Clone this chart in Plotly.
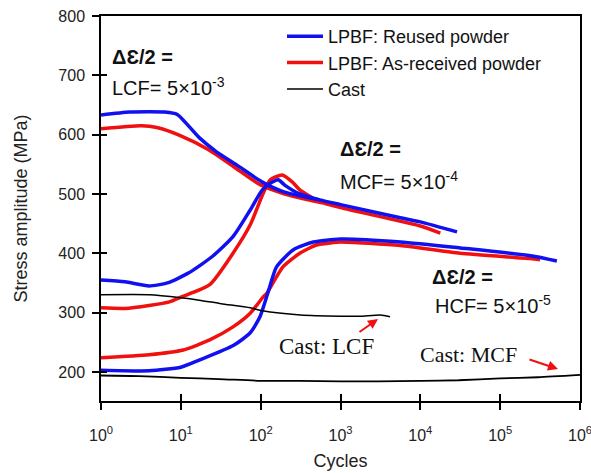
import plotly.graph_objects as go

# ---------------- data ----------------
# LPBF reused powder (blue)
reused_lcf_cycles = [1, 2.3, 6.3, 9, 17, 28, 50, 105, 200, 550]
reused_lcf_stress = [633, 638, 638, 634, 595, 571, 549, 520, 503, 490]
reused_mcf_cycles = [1, 2, 4, 6.8, 12.6, 25, 45, 74, 105, 140, 166, 200, 309, 550, 1000, 5620, 10000, 28800]
reused_mcf_stress = [355, 352, 345, 350, 367, 395, 428, 473, 507, 520, 524, 515, 500, 490, 482, 460, 453, 436]
reused_hcf_cycles = [1, 4, 10, 17, 46, 74, 98, 123, 158, 257, 457, 1000, 5620, 31600, 240000, 513000]
reused_hcf_stress = [203, 202, 208, 220, 245, 266, 293, 333, 377, 406, 419, 424, 419, 409, 396, 387]

# LPBF as-received powder (red)
asrec_lcf_cycles = [1, 3.2, 5, 10, 22, 46, 100, 200, 589]
asrec_lcf_stress = [610, 615, 612, 598, 575, 546, 515, 500, 485]
asrec_mcf_cycles = [1, 2, 4, 7.2, 10, 23, 45, 74, 105, 132, 186, 250, 309, 550, 1000, 10000, 17800]
asrec_mcf_stress = [308, 307, 312, 318, 326, 347, 400, 448, 498, 524, 532, 520, 507, 487, 477, 446, 434]
asrec_hcf_cycles = [1, 4, 10.7, 23, 45, 74, 107, 120, 190, 309, 500, 800, 1000, 5620, 31600, 240000, 316000]
asrec_hcf_stress = [224, 229, 237, 254, 276, 299, 326, 333, 377, 400, 414, 418, 419, 413, 400, 391, 389]

# Cast (black)
cast_lcf_cycles = [1, 4, 10, 17, 32, 74, 105, 316, 1000, 1778, 3162, 4170]
cast_lcf_stress = [330, 330, 325, 321, 315, 308, 303, 296, 294, 294, 296, 293]
cast_mcf_cycles = [1, 3, 10, 30, 100, 300, 1000, 3000, 10000, 30000, 100000, 300000, 1000000]
cast_mcf_stress = [194, 193, 190, 188, 185, 185, 184, 184, 185, 186, 189, 191, 195]

x_tickvals = [1, 10, 100, 1000, 10000, 100000, 1000000]
x_ticktext = ["10<sup>0</sup>", "10<sup>1</sup>", "10<sup>2</sup>", "10<sup>3</sup>",
              "10<sup>4</sup>", "10<sup>5</sup>", "10<sup>6</sup>"]
y_tickvals = [200, 300, 400, 500, 600, 700, 800]

series_names = ["LPBF: Reused powder", "LPBF: As-received powder", "Cast"]

# ---------------- figure ----------------
SANS = "Liberation Sans, Arial, sans-serif"
SERIF = "Liberation Serif, Times New Roman, serif"
BLUE = "#1010f0"
RED = "#f01010"

fig = go.Figure()

def add(xs, ys, name, color, width, show):
    fig.add_trace(go.Scatter(x=xs, y=ys, mode="lines", name=name, legendgroup=name,
                             showlegend=show, line=dict(color=color, width=width, shape="spline", smoothing=0.6)))

add(asrec_lcf_cycles, asrec_lcf_stress, series_names[1], RED, 3.5, False)
add(asrec_mcf_cycles, asrec_mcf_stress, series_names[1], RED, 3.5, False)
add(asrec_hcf_cycles, asrec_hcf_stress, series_names[1], RED, 3.5, False)
add(reused_lcf_cycles, reused_lcf_stress, series_names[0], BLUE, 3.5, True)
add(reused_mcf_cycles, reused_mcf_stress, series_names[0], BLUE, 3.5, False)
add(reused_hcf_cycles, reused_hcf_stress, series_names[0], BLUE, 3.5, False)
# legend entry for red placed after blue
fig.add_trace(go.Scatter(x=[None], y=[None], mode="lines", name=series_names[1], legendgroup=series_names[1],
                         showlegend=True, line=dict(color=RED, width=3.5)))
add(cast_lcf_cycles, cast_lcf_stress, series_names[2], "black", 1.5, True)
add(cast_mcf_cycles, cast_mcf_stress, series_names[2], "black", 1.8, False)

L, R, T, B = 101, 11, 16, 72
W, H = 591, 473
pw, ph = W - L - R, H - T - B

def px(xp):
    return (xp - L) / pw

def py(yp):
    return (H - B - yp) / ph

common_x = dict(type="log", range=[0, 6], tickvals=x_tickvals, automargin=False)
common_y = dict(range=[151, 800], tickvals=y_tickvals, automargin=False)

fig.update_layout(
    width=W, height=H,
    margin=dict(l=L, r=R, t=T, b=B, autoexpand=False),
    paper_bgcolor="white", plot_bgcolor="white",
    font=dict(family=SANS, size=16, color="#222"),
    showlegend=True,
    legend=dict(x=px(282), y=py(18), xanchor="left", yanchor="top",
                font=dict(size=18, family=SANS, color="#111"),
                bgcolor="rgba(0,0,0,0)", tracegroupgap=0, itemwidth=36),
    xaxis=dict(**common_x, ticktext=x_ticktext, ticks="outside", ticklen=7, tickwidth=1.5,
               tickcolor="black", showline=True, linecolor="black", linewidth=1.5, mirror=True,
               showgrid=False, zeroline=False, tickfont=dict(size=16, family=SANS, color="#222"),
               ticklabelstandoff=12, ticklabeloverflow="allow",
               title=dict(text="Cycles", font=dict(size=18, family=SANS, color="#222"), standoff=11)),
    yaxis=dict(**common_y, ticks="outside", ticklen=7, tickwidth=1.5, tickcolor="black",
               showline=True, linecolor="black", linewidth=1.5, mirror=True,
               showgrid=False, zeroline=False, tickfont=dict(size=16, family=SANS, color="#222"),
               ticklabelstandoff=4,
               title=dict(text="Stress amplitude (MPa)", font=dict(size=18, family=SANS, color="#222"),
                          standoff=26)),
    xaxis2=dict(**common_x, overlaying="x", anchor="y", side="bottom", ticks="inside", ticklen=7,
                tickwidth=1.5, tickcolor="black", showticklabels=False, showline=False,
                showgrid=False, zeroline=False),
    yaxis2=dict(**common_y, overlaying="y", anchor="x", side="left", ticks="inside", ticklen=6,
                tickwidth=1.5, tickcolor="black", showticklabels=False, showline=False,
                showgrid=False, zeroline=False),
)

# invisible trace to bind the overlay axes
fig.add_trace(go.Scatter(x=[None], y=[None], xaxis="x2", yaxis="y2", showlegend=False,
                         hoverinfo="skip", mode="lines"))

ann = []
def label(text, xp, yp, size=20, family=SANS, color="#111"):
    ann.append(dict(text=text, x=px(xp), y=py(yp), xref="paper", yref="paper",
                    xanchor="left", yanchor="middle", showarrow=False,
                    font=dict(size=size, family=family, color=color)))

label("<b>ΔƐ/2 =</b>", 110, 57)
label("LCF= 5×10<sup>-3</sup>", 110, 87)
label("<b>ΔƐ/2 =</b>", 338, 149)
label("MCF= 5×10<sup>-4</sup>", 338, 180)
label("<b>ΔƐ/2 =</b>", 430, 277)
label("HCF= 5×10<sup>-5</sup>", 433, 304)
label("Cast: LCF", 277, 346, size=23, family=SERIF)
label("Cast: MCF", 418, 354, size=22, family=SERIF)
fig.update_layout(annotations=ann)

# red arrows
for tail, head in [((358, 333), (378, 319)), ((528, 359), (558, 369))]:
    fig.add_annotation(x=px(head[0]), y=py(head[1]), xref="paper", yref="paper",
                       ax=tail[0] - head[0], ay=tail[1] - head[1], axref="pixel", ayref="pixel",
                       text="", showarrow=True, arrowhead=2, arrowsize=1, arrowwidth=2,
                       arrowcolor=RED)

fig.write_html("out.html")
